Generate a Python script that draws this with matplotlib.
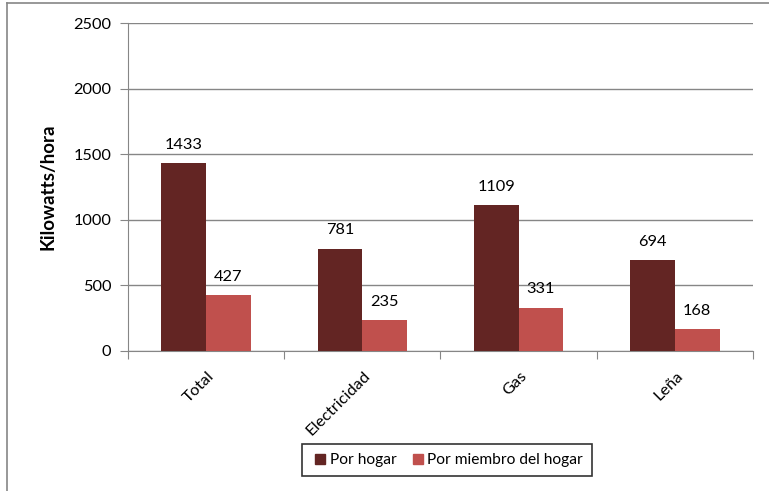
import matplotlib
matplotlib.use("Agg")
import matplotlib.pyplot as plt
import numpy as np
from matplotlib.lines import Line2D

categories = ["Total", "Electricidad", "Gas", "Leña"]
por_hogar = [1433, 781, 1109, 694]
por_miembro = [427, 235, 331, 168]
series_names = ["Por hogar", "Por miembro del hogar"]
yticks = [0, 500, 1000, 1500, 2000, 2500]

plt.rcParams['font.family'] = ['Lato', 'DejaVu Sans']

W, H = 769, 491
fig = plt.figure(figsize=(W/100, H/100), dpi=100)
ax = fig.add_axes([128/W, 1-351/H, (753-128)/W, (351-23)/H])

colors = ["#632523", "#C0504D"]
x = np.arange(len(categories))
w = 1/3.5
b1 = ax.bar(x - w/2, por_hogar, w, color=colors[0], zorder=3)
b2 = ax.bar(x + w/2, por_miembro, w, color=colors[1], zorder=3)

FS = 11.8
for bars in (b1, b2):
    for r in bars:
        ax.annotate(f"{int(r.get_height())}", (r.get_x()+r.get_width()/2, r.get_height()),
                    xytext=(0, 8), textcoords="offset points", ha="center", va="bottom",
                    fontsize=FS)

ax.set_xlim(-0.5, len(categories)-0.5)
ax.set_ylim(0, 2500)
ax.set_yticks(yticks)
ax.set_yticklabels([str(t) for t in yticks], fontsize=FS)
ax.yaxis.grid(True, color="#868686", linewidth=1, zorder=0)
ax.set_axisbelow(True)

ax.set_xticks(np.arange(len(categories)+1) - 0.5, minor=False)
ax.set_xticklabels([])
ax.tick_params(axis='x', which='major', length=6, color="#868686", direction='out')
ax.tick_params(axis='y', length=6, color="#868686", direction='out', pad=6)
for i, c in enumerate(categories):
    ax.annotate(c, (x[i], 0), xytext=(1, -13), textcoords="offset points",
                rotation=45, ha="right", va="top", rotation_mode="anchor", fontsize=FS,
                annotation_clip=False)

for s in ["top", "right"]:
    ax.spines[s].set_visible(False)
for s in ["left", "bottom"]:
    ax.spines[s].set_color("#868686")

ax.set_ylabel("Kilowatts/hora", fontsize=13.5, fontweight="bold", labelpad=12)

handles = [Line2D([], [], marker="s", linestyle="none", markersize=7, color=c) for c in colors]
leg = fig.legend(handles, series_names, loc="center", bbox_to_anchor=(447/W, 1-460/H),
                 ncol=2, frameon=True, fancybox=False, edgecolor="black", fontsize=11.2,
                 handletextpad=0.0, columnspacing=0.8, borderpad=0.55, handlelength=1.2)
leg.get_frame().set_linewidth(1.2)

# figure border (left and top visible)
fig.add_artist(Line2D([7/W, 7/W], [0, 1-3/H], color="#868686", linewidth=1.2))
fig.add_artist(Line2D([7/W, 1], [1-3/H, 1-3/H], color="#868686", linewidth=1.2))

fig.savefig("out.png", dpi=100)
